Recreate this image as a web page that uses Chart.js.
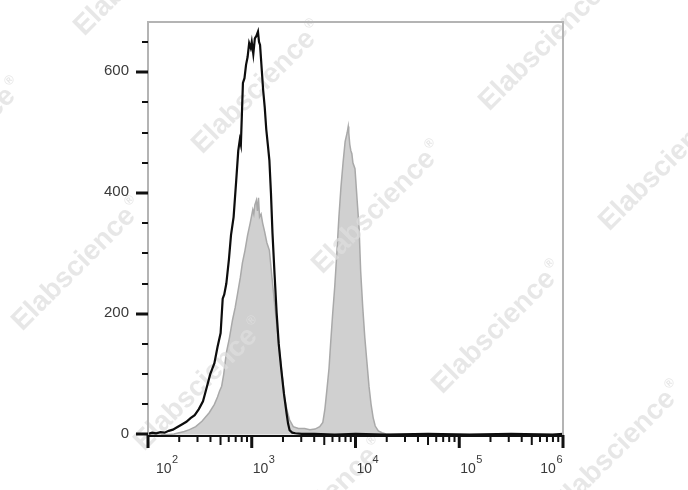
<!DOCTYPE html>
<html>
<head>
<meta charset="utf-8">
<script src="https://cdn.jsdelivr.net/npm/chart.js@4.4.1/dist/chart.umd.min.js"></script>
<style>
  html, body { margin: 0; padding: 0; background: #ffffff; }
  #wrap { width: 688px; height: 490px; }
</style>
</head>
<body>
<div id="wrap"><canvas id="c" width="688" height="490"></canvas></div>
<script>
// ---- Data (x = log10 fluorescence intensity, y = count) ----
const xDecades = [2, 3, 4, 5, 6];
const yMajorTicks = [0, 200, 400, 600];

const controlLogX = [2.00, 2.04, 2.08, 2.12, 2.16, 2.20, 2.24, 2.28, 2.33, 2.37, 2.41, 2.45, 2.49, 2.53, 2.56, 2.60, 2.64, 2.67, 2.70, 2.72, 2.735, 2.755, 2.78, 2.80, 2.825, 2.85, 2.87, 2.885, 2.895, 2.905, 2.915, 2.93, 2.945, 2.96, 2.975, 2.99, 3.00, 3.015, 3.03, 3.045, 3.06, 3.07, 3.08, 3.09, 3.10, 3.11, 3.125, 3.14, 3.155, 3.17, 3.185, 3.20, 3.22, 3.24, 3.26, 3.285, 3.31, 3.335, 3.35, 3.365, 3.39, 3.42, 3.48, 3.60, 3.80, 4.00, 4.30, 4.70, 5.10, 5.50, 5.90, 6.00];
const controlCount = [1, 3, 2, 4, 3, 6, 8, 12, 17, 21, 27, 32, 42, 55, 74, 100, 118, 145, 168, 225, 232, 250, 290, 330, 360, 420, 470, 488, 480, 530, 582, 590, 612, 625, 648, 640, 650, 630, 656, 660, 667, 650, 645, 620, 595, 570, 542, 505, 480, 454, 400, 333, 265, 201, 150, 107, 68, 36, 18, 7, 3, 2, 1, 1, 0, 1, 0, 1, 0, 1, 0, 1];

const sampleLogX = [2.00, 2.20, 2.25, 2.30, 2.35, 2.40, 2.46, 2.52, 2.59, 2.64, 2.67, 2.69, 2.71, 2.73, 2.755, 2.785, 2.815, 2.84, 2.865, 2.89, 2.91, 2.935, 2.96, 2.985, 3.01, 3.02, 3.03, 3.045, 3.055, 3.065, 3.075, 3.09, 3.105, 3.125, 3.145, 3.17, 3.195, 3.22, 3.245, 3.27, 3.295, 3.315, 3.34, 3.365, 3.40, 3.45, 3.51, 3.56, 3.61, 3.655, 3.685, 3.705, 3.725, 3.745, 3.76, 3.78, 3.80, 3.82, 3.84, 3.86, 3.88, 3.90, 3.92, 3.93, 3.935, 3.945, 3.955, 3.965, 3.975, 3.995, 4.015, 4.035, 4.05, 4.07, 4.09, 4.11, 4.13, 4.15, 4.17, 4.19, 4.22, 4.255, 4.295, 4.335, 6.00];
const sampleCount = [0, 0, 1, 3, 5, 8, 13, 22, 36, 50, 62, 72, 80, 100, 135, 160, 190, 210, 235, 260, 284, 305, 330, 350, 372, 365, 380, 388, 370, 392, 360, 365, 350, 335, 318, 305, 260, 217, 175, 135, 95, 62, 40, 24, 13, 10, 10, 8, 9, 13, 20, 42, 75, 110, 150, 200, 245, 300, 360, 410, 450, 485, 500, 510, 500, 480, 470, 465, 450, 440, 390, 340, 270, 210, 160, 120, 80, 50, 28, 14, 6, 3, 1, 0, 0];

const watermarkText = 'Elabscience';
const watermarkCenters = [[140, -30], [258, 88], [378, 208], [498, 328], [618, 448],
                          [-42, 145], [78, 265], [200, 385], [320, 505],
                          [545, 45], [665, 165]];

// ---- Build datasets ----
const toPoints = (xs, ys) => xs.map((x, i) => ({ x: x, y: ys[i] }));

const FONT = '"Liberation Sans", Arial, Helvetica, sans-serif';

function drawWatermark(ctx) {
  ctx.save();
  for (const [cx, cy] of watermarkCenters) {
    ctx.save();
    ctx.translate(cx, cy);
    ctx.rotate(-Math.PI / 4);
    ctx.font = 'bold 28px ' + FONT;
    const w1 = ctx.measureText(watermarkText).width;
    ctx.font = 'bold 13px ' + FONT;
    const w2 = ctx.measureText('®').width;
    const total = w1 + w2 + 2;
    ctx.fillStyle = 'rgba(222,222,222,0.72)';
    ctx.textBaseline = 'middle';
    ctx.font = 'bold 28px ' + FONT;
    ctx.fillText(watermarkText, -total / 2, 0);
    ctx.font = 'bold 13px ' + FONT;
    ctx.fillText('®', -total / 2 + w1 + 2, -9);
    ctx.restore();
  }
  ctx.restore();
}

const axesPlugin = {
  id: 'flowAxes',
  afterDatasetDraw(chart, args) {
    if (args.index === 1) drawWatermark(chart.ctx);
  },
  afterDraw(chart) {
    const ctx = chart.ctx;
    const xs = chart.scales.x, ys = chart.scales.y;
    const a = chart.chartArea;
    ctx.save();
    // frame (top, right, left) in gray
    ctx.strokeStyle = '#b4b4b4';
    ctx.lineWidth = 2;
    ctx.beginPath();
    ctx.moveTo(a.left, a.bottom);
    ctx.lineTo(a.left, a.top);
    ctx.lineTo(a.right, a.top);
    ctx.lineTo(a.right, a.bottom);
    ctx.stroke();

    // bottom axis line in black
    ctx.strokeStyle = '#111';
    ctx.lineWidth = 2;
    ctx.beginPath();
    ctx.moveTo(a.left, a.bottom);
    ctx.lineTo(a.right, a.bottom);
    ctx.stroke();

    // y ticks
    ctx.fillStyle = '#111';
    for (let v = 0; v <= 650; v += 50) {
      const py = Math.round(ys.getPixelForValue(v));
      const major = yMajorTicks.includes(v);
      const len = major ? 12 : 6;
      const th = major ? 3 : 2;
      ctx.fillRect(a.left - len, py - th / 2, len, th);
    }
    // y labels
    ctx.fillStyle = '#3a3a3a';
    ctx.font = '15px ' + FONT;
    ctx.textAlign = 'right';
    ctx.textBaseline = 'middle';
    for (const v of yMajorTicks) {
      ctx.fillText(String(v), a.left - 19, ys.getPixelForValue(v) - 1);
    }

    // x ticks
    ctx.fillStyle = '#111';
    for (let i = 0; i < xDecades.length; i++) {
      const d = xDecades[i];
      const px = xs.getPixelForValue(d);
      ctx.fillRect(px - 1.5, a.bottom - 1, 3, 13);
      if (i < xDecades.length - 1) {
        for (let k = 2; k <= 9; k++) {
          const mx = xs.getPixelForValue(d + Math.log10(k));
          const len = k === 5 ? 9 : 6;
          ctx.fillRect(mx - 1, a.bottom - 1, 2, len + 1);
        }
      }
    }
    // x labels  10^n
    ctx.fillStyle = '#3a3a3a';
    ctx.textAlign = 'left';
    ctx.textBaseline = 'alphabetic';
    for (let i = 0; i < xDecades.length; i++) {
      const d = xDecades[i];
      const px = xs.getPixelForValue(d);
      ctx.font = '14px ' + FONT;
      const w1 = ctx.measureText('10').width;
      ctx.font = '11px ' + FONT;
      const w2 = ctx.measureText(String(d)).width;
      let left;
      if (i === xDecades.length - 1) left = px - (w1 + w2 + 1);
      else if (i === 0) left = px + 8;
      else left = px + 1;
      ctx.font = '14px ' + FONT;
      ctx.fillText('10', left, a.bottom + 37);
      ctx.font = '11px ' + FONT;
      ctx.fillText(String(d), left + w1 + 0.5, a.bottom + 27);
    }
    ctx.restore();
  }
};

new Chart(document.getElementById('c'), {
  type: 'line',
  data: {
    datasets: [
      {
        label: 'Control',
        data: toPoints(controlLogX, controlCount),
        borderColor: '#0d0d0d',
        borderWidth: 2.2,
        pointRadius: 0,
        fill: false,
        tension: 0,
        order: 0
      },
      {
        label: 'Sample',
        data: toPoints(sampleLogX, sampleCount),
        borderColor: '#a9a9a9',
        backgroundColor: '#d0d0d0',
        borderWidth: 1.5,
        pointRadius: 0,
        fill: 'origin',
        tension: 0,
        order: 1
      }
    ]
  },
  options: {
    responsive: false,
    animation: false,
    layout: { padding: { top: 22, right: 125, left: 0, bottom: 0 } },
    plugins: { legend: { display: false }, tooltip: { enabled: false } },
    scales: {
      x: {
        type: 'linear',
        min: 2, max: 6,
        grid: { display: false },
        border: { display: false },
        ticks: { display: false },
        afterFit(scale) { scale.height = 54; }
      },
      y: {
        type: 'linear',
        min: -2.5, max: 683,
        grid: { display: false },
        border: { display: false },
        ticks: { display: false },
        afterFit(scale) { scale.width = 148; }
      }
    }
  },
  plugins: [axesPlugin]
});
</script>
</body>
</html>
